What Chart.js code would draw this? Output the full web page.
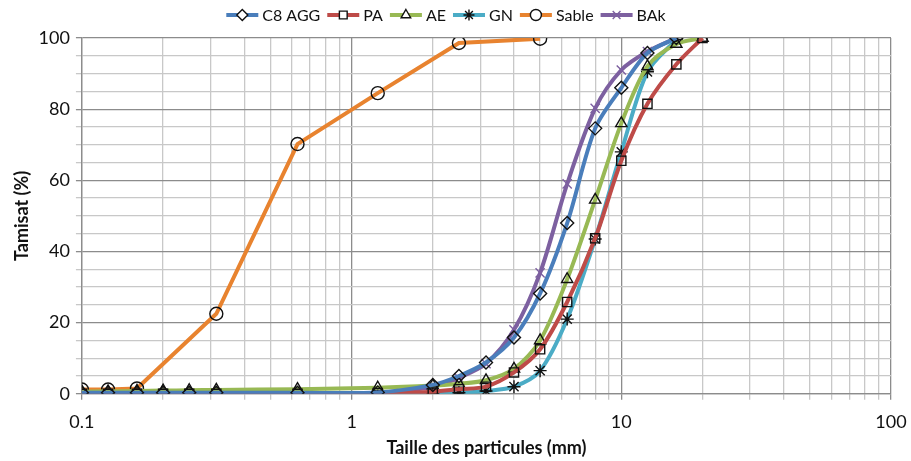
<!DOCTYPE html>
<html>
<head>
<meta charset="utf-8">
<script src="https://cdn.jsdelivr.net/npm/chart.js@4.4.0/dist/chart.umd.min.js"></script>
<style>
  html, body { margin: 0; padding: 0; background: #fff; }
  #wrap { width: 911px; height: 461px; position: relative; }
</style>
</head>
<body>
<div id="wrap"><canvas id="chart"></canvas></div>
<script>
// sieve sizes (mm)
const sizes = [0.1, 0.125, 0.16, 0.2, 0.25, 0.315, 0.63, 1.25, 2, 2.5, 3.15, 4, 5, 6.3, 8, 10, 12.5, 16, 20];

// passing percentages
const c8agg = [0.3, 0.3, 0.3, 0.3, 0.3, 0.3, 0.3, 0.4, 2.5, 5, 8.8, 15.8, 28.2, 48, 74.6, 86, 95.8, 100, null];
const pa    = [0, 0, 0, 0, 0, 0, 0, 0.2, 0.6, 1.3, 2, 6, 12.5, 25.8, 43.7, 65.5, 81.5, 92.6, 100];
const ae    = [0.6, 0.7, 0.8, 0.9, 1, 1.1, 1.3, 1.7, 2.3, 2.8, 3.8, 7, 15, 32.2, 54.5, 76, 92, 98.3, 100];
const gn    = [0, 0, 0, 0, 0, 0, 0, 0, 0, 0.3, 0.8, 2, 6.5, 21, 43.5, 68, 90.5, 99.6, null];
const sable = [1.2, 1.2, 1.5, null, null, 22.5, 70.2, 84.5, null, 98.6, null, null, 99.8, null, null, null, null, null, null];
const bak   = [0.2, 0.2, 0.2, 0.2, 0.2, 0.2, 0.2, 0.3, 2, 4.5, 8.5, 18, 34, 59, 80.2, 91, 96.2, 100, null];

const seriesNames = ['C8 AGG', 'PA', 'AE', 'GN', 'Sable', 'BAk'];
const xTickLabels = [0.1, 1, 10, 100];
const yTickLabels = [0, 20, 40, 60, 80, 100];

const FONT = 'Lato, "Open Sans", sans-serif';

function toPoints(vals) {
  return sizes.map((s, i) => ({ x: s, y: vals[i] }));
}

function makeSet(label, vals, color, marker, markerColor, tension) {
  return {
    label: label,
    data: toPoints(vals),
    borderColor: color,
    backgroundColor: color,
    borderWidth: 4,
    tension: tension,
    spanGaps: true,
    pointStyle: marker,
    pointRadius: 6.5,
    pointBorderWidth: 1.4,
    pointBorderColor: markerColor,
    pointBackgroundColor: 'rgba(0,0,0,0)',
    markerColor: markerColor
  };
}

const datasets = [
  makeSet(seriesNames[0], c8agg, '#4a7ebb', 'rectRot', '#111', 0.3),
  makeSet(seriesNames[1], pa, '#be4b48', 'rect', '#111', 0.3),
  makeSet(seriesNames[2], ae, '#98b954', 'triangle', '#111', 0.3),
  makeSet(seriesNames[3], gn, '#4bacc6', 'star', '#111', 0.3),
  makeSet(seriesNames[4], sable, '#e8832f', 'circle', '#111', 0),
  makeSet(seriesNames[5], bak, '#7d60a0', 'crossRot', '#7d60a0', 0.3)
];

// Excel-like legend: line with marker in the middle, then text
const lineLegend = {
  id: 'lineLegend',
  afterDraw(chart) {
    const ctx = chart.ctx;
    ctx.save();
    ctx.font = '16px ' + FONT;
    ctx.textBaseline = 'middle';
    const y = 15;
    const lineLen = 32, gap = 4, itemGap = 7;
    let total = 0;
    chart.data.datasets.forEach(ds => {
      total += lineLen + gap + ctx.measureText(ds.label).width + itemGap;
    });
    total -= itemGap;
    let x = 446 - total / 2;
    chart.data.datasets.forEach(ds => {
      ctx.strokeStyle = ds.borderColor;
      ctx.lineWidth = 4;
      ctx.beginPath();
      ctx.moveTo(x, y);
      ctx.lineTo(x + lineLen, y);
      ctx.stroke();
      ctx.fillStyle = '#fff';
      ctx.strokeStyle = ds.markerColor;
      ctx.lineWidth = 1.4;
      Chart.helpers.drawPoint(ctx, { pointStyle: ds.pointStyle, radius: 5.5, borderWidth: 1.4, rotation: 0 }, x + lineLen / 2, y);
      ctx.fillStyle = '#111';
      ctx.fillText(ds.label, x + lineLen + gap, y + 1);
      x += lineLen + gap + ctx.measureText(ds.label).width + itemGap;
    });
    ctx.restore();
  }
};

function isDecade(v) {
  const l = Math.log10(v);
  return Math.abs(l - Math.round(l)) < 1e-6;
}

new Chart(document.getElementById('chart'), {
  type: 'line',
  data: { datasets: datasets },
  options: {
    responsive: true,
    maintainAspectRatio: false,
    animation: false,
    layout: { padding: { top: 38, right: 0, left: 7, bottom: 2 } },
    plugins: {
      legend: { display: false },
      tooltip: { enabled: false }
    },
    scales: {
      x: {
        type: 'logarithmic',
        min: 0.1,
        max: 100,
        afterBuildTicks(scale) {
          const ticks = [];
          for (let e = -1; e <= 1; e++) {
            for (let m = 1; m <= 9; m++) {
              ticks.push({ value: m * Math.pow(10, e) });
            }
          }
          ticks.push({ value: 100 });
          scale.ticks = ticks;
        },
        afterFit(scale) {
          scale.paddingRight = 20;
        },
        ticks: {
          autoSkip: false,
          maxRotation: 0,
          color: '#111',
          font: { family: FONT, size: 18 },
          padding: 12,
          callback(v) {
            const hit = xTickLabels.find(t => Math.abs(t - v) < 1e-9);
            return hit !== undefined ? String(hit) : '';
          }
        },
        grid: {
          color: ctx => isDecade(ctx.tick.value) ? '#8c8c8c' : '#c8c8c8',
          lineWidth: 1.3,
          tickLength: 6,
          drawOnChartArea: true
        },
        border: { color: '#8c8c8c', width: 1.3 },
        title: {
          display: true,
          text: 'Taille des particules (mm)',
          color: '#111',
          font: { family: FONT, size: 18, weight: 'bold' },
          padding: { top: -8, bottom: 0 }
        }
      },
      y: {
        min: 0,
        max: 100,
        ticks: {
          stepSize: 5,
          autoSkip: false,
          color: '#111',
          font: { family: FONT, size: 18 },
          padding: 6,
          callback(v) {
            return yTickLabels.includes(v) ? String(v) : '';
          }
        },
        grid: {
          color: ctx => (ctx.tick.value % 20 === 0) ? '#8c8c8c' : '#c8c8c8',
          lineWidth: 1.3,
          tickLength: 6
        },
        border: { color: '#8c8c8c', width: 1.3 },
        title: {
          display: true,
          text: 'Tamisat (%)',
          color: '#111',
          font: { family: FONT, size: 18, weight: 'bold' },
          padding: { bottom: 0 }
        }
      }
    }
  },
  plugins: [lineLegend]
});
</script>
</body>
</html>
